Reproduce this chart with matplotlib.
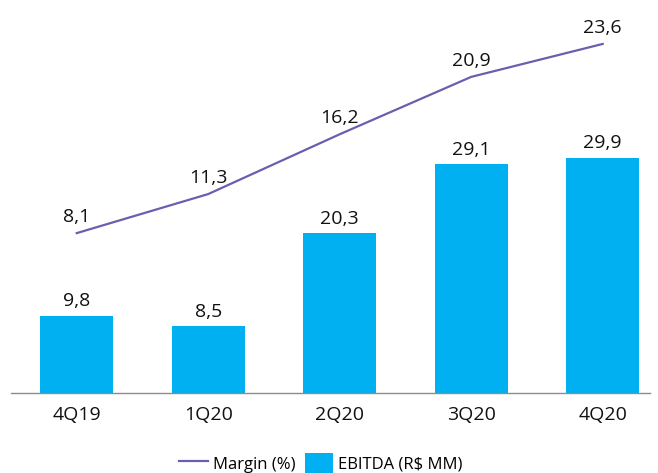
import matplotlib.pyplot as plt
from matplotlib.lines import Line2D
from matplotlib.patches import Patch

# Data
quarters = ["4Q19", "1Q20", "2Q20", "3Q20", "4Q20"]
ebitda = [9.8, 8.5, 20.3, 29.1, 29.9]
margin = [8.1, 11.3, 16.2, 20.9, 23.6]

BAR_COLOR = "#00B0F0"
LINE_COLOR = "#6E5DAF"

plt.rcParams["font.family"] = ["Open Sans", "DejaVu Sans"]


def fmt(v):
    return f"{v:.1f}".replace(".", ",")


fig = plt.figure(figsize=(6.58, 4.73), dpi=100)
ax = fig.add_axes([11 / 658, 80 / 473, 639 / 658, 393 / 473])
x = list(range(len(quarters)))

# EBITDA bars
ax.bar(x, ebitda, width=0.555, color=BAR_COLOR, zorder=2)
for xi, v in zip(x, ebitda):
    ax.annotate(fmt(v), (xi, v), xytext=(0, 4), textcoords="offset points",
                ha="center", va="bottom", fontsize=14, color="#111111")

ax.set_ylim(0, 50)
ax.set_xlim(-0.5, 4.36)
ax.set_xticks(x)
ax.set_xticklabels(quarters, fontsize=14, color="#111111")
ax.tick_params(axis="x", length=0, pad=9)
ax.set_yticks([])
for side in ["top", "right", "left"]:
    ax.spines[side].set_visible(False)
ax.spines["bottom"].set_color("#8c8c8c")
ax.spines["bottom"].set_linewidth(1.0)

# Margin line on a secondary axis
ax2 = ax.twinx()
ax2.plot(x, margin, color=LINE_COLOR, linewidth=1.6, zorder=3)
for xi, v in zip(x, margin):
    ax2.annotate(fmt(v), (xi, v), xytext=(0, 5), textcoords="offset points",
                 ha="center", va="bottom", fontsize=14, color="#111111")
ax2.set_ylim(-5, 27.2)
ax2.set_yticks([])
for side in ["top", "right", "left", "bottom"]:
    ax2.spines[side].set_visible(False)

# Legend
handles = [
    Line2D([0], [0], color=LINE_COLOR, linewidth=1.6),
    Patch(facecolor=BAR_COLOR),
]
fig.legend(handles, ["Margin (%)", "EBITDA (R$ MM)"], loc="center",
           bbox_to_anchor=(321 / 658, 1 - 463 / 473), ncol=2, frameon=False,
           fontsize=12, handlelength=1.7, handleheight=1.4, columnspacing=0.6,
           handletextpad=0.3)

fig.savefig("out.png", dpi=100)
